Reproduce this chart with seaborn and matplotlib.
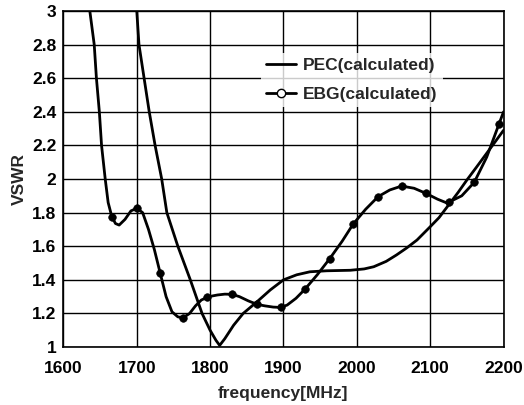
import matplotlib
matplotlib.use("Agg")
import matplotlib.pyplot as plt
from matplotlib.lines import Line2D
import seaborn as sns
import pandas as pd

# EBG(calculated) curve
ebg_freq = [1634, 1636, 1639, 1642, 1645, 1649, 1652, 1657, 1661, 1666, 1671, 1676, 1684, 1692,
            1700, 1708, 1716, 1724, 1732, 1740, 1748, 1756, 1763, 1772, 1780, 1788, 1798, 1810,
            1820, 1830, 1840, 1852, 1864, 1875, 1886, 1896, 1905, 1917, 1929, 1946, 1963, 1980,
            1995, 2012, 2029, 2045, 2061, 2078, 2094, 2110, 2123, 2143, 2160, 2177, 2194, 2200]
ebg_vswr = [3.10, 3.00, 2.90, 2.80, 2.60, 2.40, 2.20, 2.00, 1.86, 1.776, 1.735, 1.726, 1.76, 1.81,
            1.826, 1.80, 1.70, 1.58, 1.439, 1.30, 1.21, 1.18, 1.174, 1.20, 1.245, 1.28, 1.30, 1.31,
            1.315, 1.314, 1.30, 1.275, 1.254, 1.245, 1.238, 1.236, 1.25, 1.29, 1.343, 1.43, 1.526, 1.63,
            1.732, 1.82, 1.895, 1.935, 1.958, 1.945, 1.915, 1.88, 1.857, 1.90, 1.98, 2.13, 2.33, 2.40]

# EBG marker points
ebg_mk_freq = [1666, 1700, 1732, 1763, 1796, 1830, 1864, 1896, 1929, 1963, 1995,
               2029, 2061, 2094, 2126, 2160, 2194]
ebg_mk_vswr = [1.776, 1.826, 1.439, 1.174, 1.296, 1.314, 1.254, 1.236, 1.343, 1.526, 1.732,
               1.895, 1.958, 1.915, 1.861, 1.98, 2.33]

# PEC(calculated) curve
pec_freq = [1698, 1700, 1703, 1710, 1717, 1725, 1734, 1741, 1756, 1773, 1789, 1800, 1808,
            1813, 1820, 1832, 1845, 1864, 1882, 1900, 1918, 1936, 1959, 1991, 2010, 2023,
            2040, 2054, 2068, 2082, 2100, 2112, 2125, 2138, 2150, 2163, 2177, 2190, 2200]
pec_vswr = [3.05, 3.00, 2.80, 2.60, 2.40, 2.20, 2.00, 1.80, 1.60, 1.40, 1.20, 1.10, 1.04,
            1.01, 1.05, 1.13, 1.20, 1.27, 1.34, 1.40, 1.43, 1.448, 1.454, 1.457, 1.465, 1.478,
            1.51, 1.548, 1.59, 1.637, 1.716, 1.77, 1.845, 1.92, 1.994, 2.07, 2.153, 2.23, 2.29]

x_ticks = [1600, 1700, 1800, 1900, 2000, 2100, 2200]
y_ticks = [1, 1.2, 1.4, 1.6, 1.8, 2, 2.2, 2.4, 2.6, 2.8, 3]
y_tick_labels = ["1", "1.2", "1.4", "1.6", "1.8", "2", "2.2", "2.4", "2.6", "2.8", "3"]

sns.set_style("white")
plt.rcParams['font.family'] = ['Liberation Sans', 'DejaVu Sans']
plt.rcParams['font.weight'] = 'bold'

FS = 12.5
fig = plt.figure(figsize=(5.24, 4.05), dpi=100)
ax = fig.add_axes([0.121, 0.143, 0.840, 0.830])

pec_df = pd.DataFrame({"f": pec_freq, "v": pec_vswr})
ebg_df = pd.DataFrame({"f": ebg_freq, "v": ebg_vswr})
mk_df = pd.DataFrame({"f": ebg_mk_freq, "v": ebg_mk_vswr})

sns.lineplot(data=pec_df, x="f", y="v", sort=False, color="black", lw=2.0, ax=ax, zorder=3)
sns.lineplot(data=ebg_df, x="f", y="v", sort=False, color="black", lw=2.0, ax=ax, zorder=3)
sns.scatterplot(data=mk_df, x="f", y="v", color="black", s=30, edgecolor="black", ax=ax, zorder=4)

ax.set_xlim(1600, 2200)
ax.set_ylim(1, 3)
ax.set_xticks(x_ticks)
ax.set_xticklabels([str(t) for t in x_ticks])
ax.set_yticks(y_ticks)
ax.set_yticklabels(y_tick_labels)
ax.tick_params(axis="both", length=0, labelsize=FS, colors="black")
ax.tick_params(axis="x", pad=10)
ax.tick_params(axis="y", pad=5)
for lab in ax.get_xticklabels() + ax.get_yticklabels():
    lab.set_fontweight("bold")
ax.grid(True, color="black", lw=1.0)
for s in ax.spines.values():
    s.set_color("black")
    s.set_linewidth(1.2)

ax.set_xlabel("frequency[MHz]", fontsize=FS, fontweight="bold", labelpad=7)
ax.set_ylabel("VSWR", fontsize=FS, fontweight="bold", labelpad=4)

handles = [Line2D([], [], color="black", lw=2.0),
           Line2D([], [], color="black", lw=2.0, marker="o", markersize=6,
                  markerfacecolor="white", markeredgecolor="black")]
leg = ax.legend(handles, ["PEC(calculated)", "EBG(calculated)"], loc="upper left",
                bbox_to_anchor=(0.429, 0.902), frameon=True, fancybox=False,
                prop={"size": FS, "weight": "bold"}, handlelength=1.73,
                handletextpad=0.4, labelspacing=0.79, borderpad=0.3)
leg.get_frame().set_facecolor("white")
leg.get_frame().set_edgecolor("none")

fig.savefig("out.png", dpi=100)
